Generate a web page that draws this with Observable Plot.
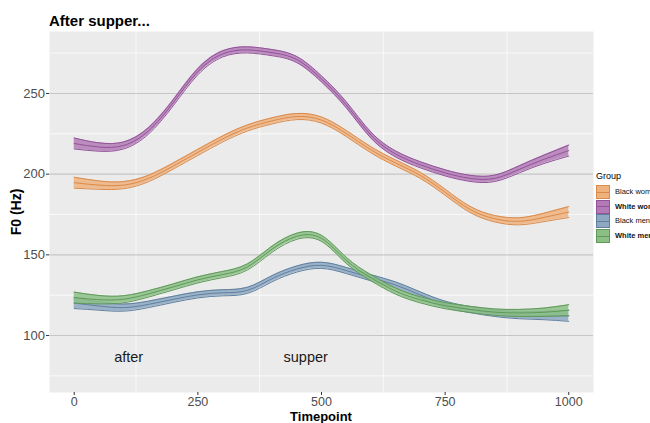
<!DOCTYPE html>
<html><head><meta charset="utf-8">
<script src="https://cdn.jsdelivr.net/npm/d3@7"></script>
<script src="https://cdn.jsdelivr.net/npm/@observablehq/plot@0.6"></script>
<style>
body{margin:0;background:#fff;overflow:hidden;font-family:"Liberation Sans",Arial,sans-serif;}
#wrap{position:relative;width:650px;height:423px;overflow:hidden;}
#chart{position:absolute;left:0;top:0;}
#title{position:absolute;left:49px;top:12.5px;font-size:15px;line-height:15px;font-weight:bold;color:#000;white-space:nowrap;}
#xtitle{position:absolute;left:321px;top:409.5px;transform:translateX(-50%);font-size:13px;line-height:13px;font-weight:bold;color:#000;white-space:nowrap;}
#ytitle{position:absolute;left:16px;top:212px;transform:translate(-50%,-50%) rotate(-90deg);font-size:14px;line-height:14px;font-weight:bold;color:#000;white-space:nowrap;}
#legend{position:absolute;left:596px;top:172px;width:54px;overflow:hidden;height:80px;}
#legend .lt{font-size:9px;line-height:9px;color:#000;margin-bottom:4px;}
#legend .row{position:absolute;left:0;height:14px;width:80px;}
#legend .key{position:absolute;left:0;top:0;width:12px;height:12px;border:1.5px solid;}
#legend .key .mid{position:absolute;left:0;right:0;top:5.5px;height:1px;}
#legend .lab{position:absolute;left:19px;top:0;font-size:7.5px;line-height:14px;color:#111;white-space:nowrap;}
</style></head><body>
<div id="wrap">
  <div id="chart"></div>
  <div id="title">After supper...</div>
  <div id="xtitle">Timepoint</div>
  <div id="ytitle">F0 (Hz)</div>
  <div id="legend"></div>
</div>
<script>
const timepoints = [0,50,100,150,200,250,300,350,400,450,500,550,600,650,700,750,800,850,900,950,1000];
const blackWomen = [194.7,193.2,193.2,197.3,205,213.5,221.8,228.6,233,235.7,233.5,225.2,215.1,206.9,199.2,188.8,178.2,172.4,170.8,173.2,176.5];
const whiteWomen = [219.0,216.8,217.8,226.8,244.2,263.5,274.5,277,275.3,271,259,243,224.2,212.5,205.8,200.8,197.4,197.4,203,209.2,214.6];
const blackMen   = [120.1,118.3,117.3,119.3,122.4,125.2,126.5,128,135.2,141.2,143.5,140.3,135.8,131.3,125.1,119.4,116.1,113.8,112.6,112.4,112.2];
const whiteMen   = [123.5,122.2,122.5,125.8,130.1,134.5,137.8,142.5,153.5,161.5,160.2,146.6,135.8,127.5,122.1,118.5,116.2,114.5,114,114.4,115.7];
const halfWidth  = [3.4,2.6,2.2,2.0,1.9,1.9,1.9,1.9,1.9,1.9,1.9,1.9,1.9,1.9,1.9,1.9,1.9,2.0,2.2,2.6,3.4];
const groups = ["Black women","White women","Black men","White men"];
const series = [blackWomen, whiteWomen, blackMen, whiteMen];
const fills   = ["#eeb27e","#b37bb6","#8ea8c2","#8cbf86"];
const strokes = ["#d98b4c","#93529a","#5f809f","#5e9a58"];
const boldLabel = [false,true,false,true];
const majorY = [100,150,200,250];
const minorY = [75,125,175,225,275];
const minorX = [125,375,625,875];
const xTicks = [0,250,500,750,1000];
const words = ["after","supper"];
const wordX = [110,468];
const wordY = [86.4,86.4];

const rows = [];
groups.forEach((g, gi) => series[gi].forEach((v, i) => rows.push({g, t: timepoints[i], v, lo: v - halfWidth[i], hi: v + halfWidth[i]})));

const bandMarks = groups.flatMap((g, gi) => {
  const d = rows.filter(r => r.g === g);
  return [
    Plot.areaY(d, {x: "t", y1: "lo", y2: "hi", fill: fills[gi], fillOpacity: 0.85, curve: "natural"}),
    Plot.line(d, {x: "t", y: "lo", stroke: strokes[gi], strokeWidth: 1, curve: "natural"}),
    Plot.line(d, {x: "t", y: "hi", stroke: strokes[gi], strokeWidth: 1, curve: "natural"}),
    Plot.line(d, {x: "t", y: "v", stroke: strokes[gi], strokeWidth: 1, curve: "natural"})
  ];
});

const chart = Plot.plot({
  width: 650, height: 423,
  marginLeft: 49, marginRight: 57, marginTop: 31, marginBottom: 31,
  x: {domain: [-50, 1050]},
  y: {domain: [64.7, 288.4]},
  style: {fontFamily: "'Liberation Sans', Arial, sans-serif", fontSize: "13px", color: "#4d4d4d", background: "transparent"},
  marks: [
    Plot.frame({fill: "#ebebeb", stroke: null}),
    Plot.ruleY(minorY, {stroke: "#ffffff", strokeWidth: 0.7}),
    Plot.ruleX(minorX, {stroke: "#ffffff", strokeWidth: 0.7}),
    Plot.ruleY(majorY, {stroke: "#c6c6c6", strokeWidth: 1.1}),
    ...bandMarks,
    Plot.text(words, {x: (d, i) => wordX[i], y: (d, i) => wordY[i], text: d => d, fontSize: 14.5, fill: "#1a1a1a"}),
    Plot.axisX({ticks: xTicks, tickFormat: d => String(d), tickSize: 3, tickPadding: 1.5, label: null, fontSize: 12.5, stroke: "#333", fill: "#4d4d4d"}),
    Plot.axisY({ticks: majorY, tickFormat: d => String(d), tickSize: 3, tickPadding: 1.5, label: null, fontSize: 13, stroke: "#333", fill: "#4d4d4d"})
  ]
});
document.getElementById("chart").appendChild(chart);

const legend = document.getElementById("legend");
const lt = document.createElement("div");
lt.className = "lt"; lt.textContent = "Group";
legend.appendChild(lt);
groups.forEach((g, gi) => {
  const row = document.createElement("div");
  row.className = "row";
  row.style.top = (13 + gi * 14.7) + "px";
  const key = document.createElement("div");
  key.className = "key";
  key.style.background = fills[gi];
  key.style.borderColor = strokes[gi];
  const mid = document.createElement("div");
  mid.className = "mid"; mid.style.background = strokes[gi];
  key.appendChild(mid);
  const lab = document.createElement("div");
  lab.className = "lab"; lab.textContent = g;
  if (boldLabel[gi]) lab.style.fontWeight = "bold";
  row.appendChild(key); row.appendChild(lab);
  legend.appendChild(row);
});
</script>
</body></html>
